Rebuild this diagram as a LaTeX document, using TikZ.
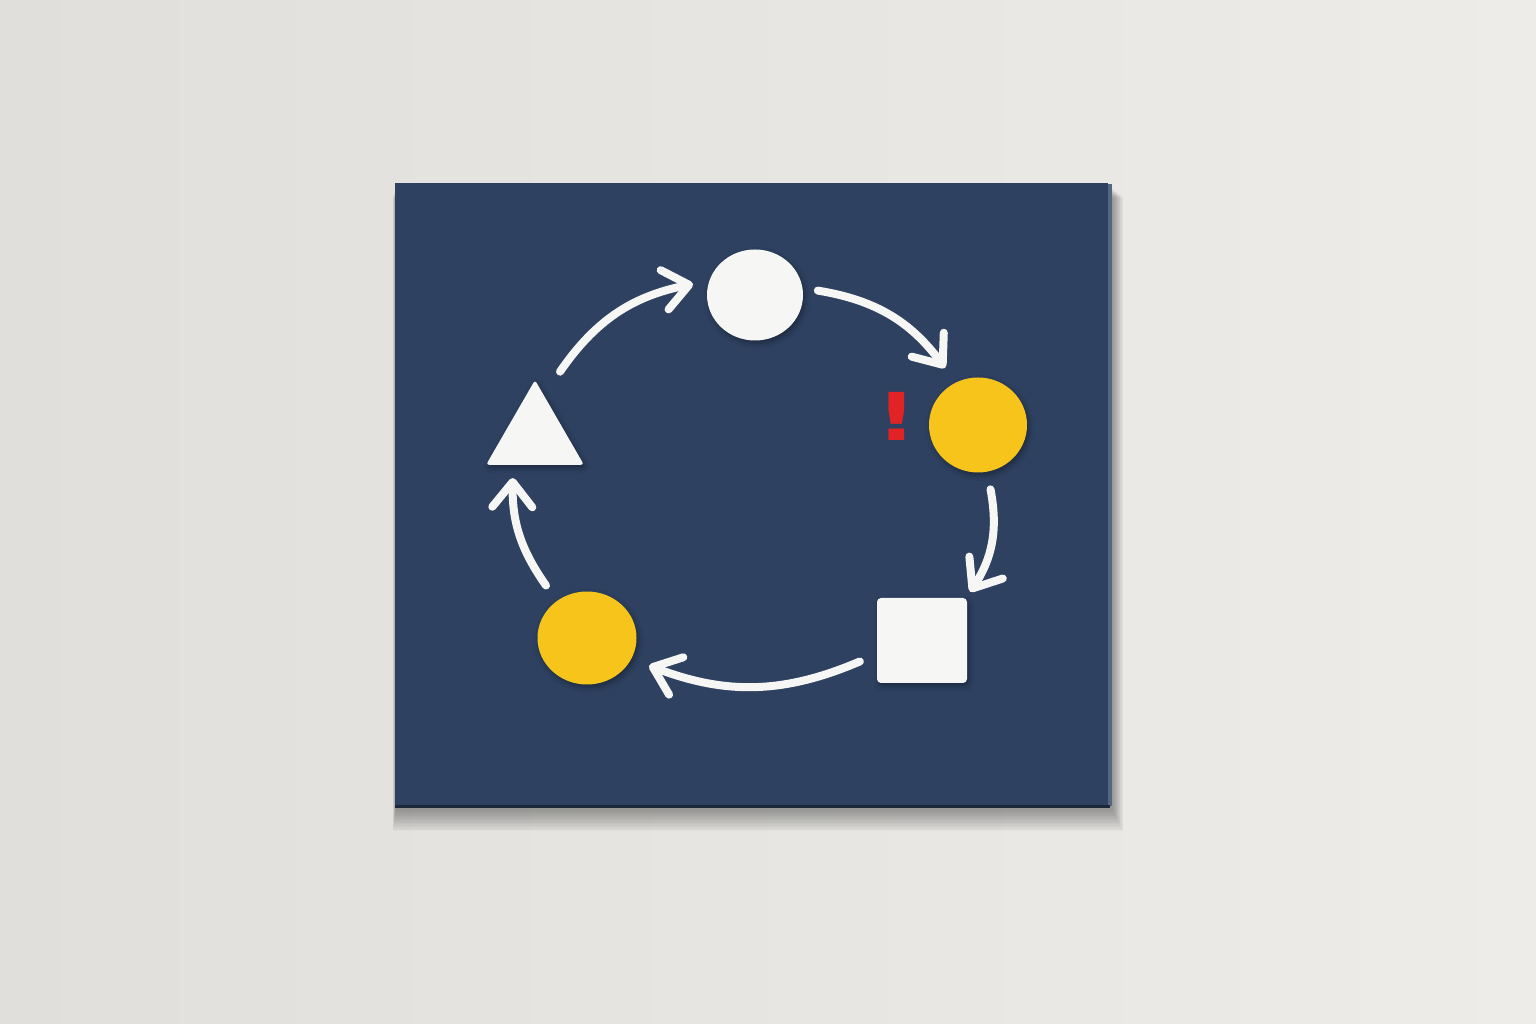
\documentclass[tikz,border=0pt]{standalone}
\usepackage{fontspec}
\newfontfamily\marksans{DejaVu Sans}
\usetikzlibrary{arrows.meta,shapes.geometric,shadows.blur}

\definecolor{wallhi}{HTML}{EDECE9}
\definecolor{walllo}{HTML}{E1DFDC}
\definecolor{board}{HTML}{2E4161}
\definecolor{boardedge}{HTML}{56667F}
\definecolor{boardrim}{HTML}{1C273A}
\definecolor{chalk}{HTML}{F6F6F4}
\definecolor{sun}{HTML}{F6C41B}
\definecolor{alert}{HTML}{E12326}

\tikzset{
  piece/.style={fill=chalk, inner sep=0pt,
    blur shadow={shadow xshift=2pt, shadow yshift=-3pt, shadow blur radius=5pt, shadow opacity=35}},
  disc/.style={piece, ellipse},
  flow/.style={line width=8pt, chalk, line cap=round,
    -{Straight Barb[length=25pt,width=40pt,round]}},
}

\begin{document}
\begin{tikzpicture}[x=1pt,y=1pt]
\useasboundingbox (0,0) rectangle (1536,1024);
\shade[left color=walllo, right color=wallhi] (0,0) rectangle (1536,1024);

% the board and its shadow
\foreach \g in {1,...,16}
  \fill[black, opacity=0.022] (396-0.2*\g,215-1.4*\g) rectangle (1112+0.7*\g,836-0.6*\g);
\fill[board] (395,216) rectangle (1108,841);
\fill[boardedge] (1108,218) rectangle (1112,840);
\fill[boardrim] (395,216) rectangle (1110,218.5);

% pieces
\node[disc, minimum width=96pt, minimum height=91pt, outer sep=15pt] (start) at (755,729) {};
\node[disc, fill=sun, minimum width=98pt, minimum height=95pt, outer sep=18pt] (warn) at (978,599) {};
\node[piece, rectangle, rounded corners=4pt, minimum width=90pt, minimum height=85pt] (box) at (922,383.5) {};
\node[disc, fill=sun, minimum width=99pt, minimum height=93pt, outer sep=19pt] (dot) at (587,386) {};
\node[piece, regular polygon, regular polygon sides=3, minimum size=113pt, rounded corners=3pt] (tri) at (535,587.4) {};

\node[alert, inner sep=0pt, xscale=1.35, transform shape,
  font=\marksans\bfseries\fontsize{66pt}{66pt}\selectfont] (mark) at (897,608) {!};

% the loop
\draw[flow] ([shift={(25pt,8pt)}]tri.corner 1) to[bend left=22] (start.170);
\draw[flow] (start.4) to[bend left=22] (warn.120);
\draw[flow] (warn.281) to[bend left=22] ([shift={(3pt,6pt)}]box.north east);
\draw[flow] ([shift={(-17pt,-21pt)}]box.west) to[bend left=22] (dot.336);
\draw[flow] (dot.128) to[bend left=18] ([shift={(27pt,-13pt)}]tri.corner 2);
\end{tikzpicture}
\end{document}
